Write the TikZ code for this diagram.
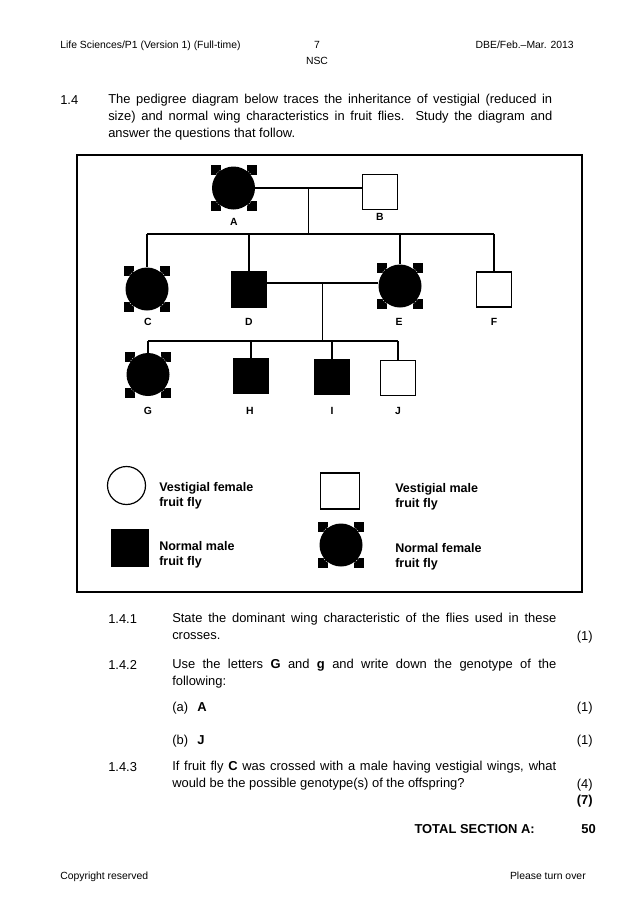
\documentclass[tikz,border=0pt]{standalone}
\usepackage{fontspec}
\setmainfont{Liberation Sans}
\usetikzlibrary{calc,backgrounds}
\newcommand\selhandles[2]{%
  \begin{pgfonlayer}{background}
  \foreach \sx/\sy in {-1/-1,1/-1,-1/1,1/1}{
    \fill[black] ($(#1.center)+(\sx*#2,\sy*#2)$) rectangle ($(#1.center)+({\sx*(#2-10)},{\sy*(#2-10)})$);
  }
  \draw[white,line width=0.35pt,dash pattern=on 0.8pt off 1pt] (#1.center) circle[radius=#2-0.9];
  \end{pgfonlayer}}
\begin{document}
\begin{tikzpicture}[x=0.75pt,y=-0.75pt,
  hdr/.style={font=\fontsize{7.8}{9}\selectfont, inner sep=0},
  body/.style={font=\fontsize{9.7}{12.75}\selectfont, inner sep=0},
  para/.style={body, anchor=north west, align=justify},
  lbl/.style={font=\bfseries\fontsize{7.8}{9}\selectfont, inner sep=0},
  leg/.style={font=\bfseries\fontsize{9.4}{11.6}\selectfont, inner sep=0, align=left, anchor=north west},
  fem/.style={circle, fill=black, minimum size=32.25pt, inner sep=0},
  male/.style={rectangle, draw, line width=1.1pt, minimum size=26pt, inner sep=0},
  maleN/.style={male, fill=black},
  link/.style={line width=1.1pt}]
\useasboundingbox (0,0) rectangle (638,903);
\begin{pgfonlayer}{background}
\fill[white] (0,0) rectangle (638,903);
\end{pgfonlayer}

% header
\node[hdr, anchor=base west] (h1) at (60,48.5) {Life Sciences/P1 (Version 1) (Full-time)};
\node[hdr, anchor=base] (h2) at (317,48.5) {7};
\node[hdr, anchor=base] (h3) at (317,64.5) {NSC};
\node[hdr, anchor=base east] (h4) at (574,48.5) {DBE/Feb.–Mar. 2013};

% intro
\node[body, anchor=base west] (n14) at (60,104.5) {1.4};
\node[para, text width=333pt] (intro) at (108,94) {The pedigree diagram below traces the inheritance of vestigial (reduced in\linebreak size) and normal wing characteristics in fruit flies. Study the diagram and\linebreak answer the questions that follow.};

% frame
\draw[line width=1.3pt] (77,155) rectangle (582,592);

% generation 1
\node[fem] (A) at (233.5,188) {};
\node[male] (B) at (380,192) {};
\selhandles{A}{23}
\node[lbl] (lA) at (234,222) {A};
\node[lbl] (lB) at (380,217) {B};
\draw[link] (A) -- (A -| B.west);
\coordinate (ab) at ($(A.east)!0.5!(A -| B.west)$);
\coordinate (s1) at (0,234);

% generation 2
\node[fem] (C) at (147,289) {};
\node[maleN] (D) at (249,289.5) {};
\node[fem] (E) at (400,286) {};
\node[male] (F) at (494,289.5) {};
\selhandles{C}{23}
\selhandles{E}{23}
\node[lbl] (lC) at (148,322) {C};
\node[lbl] (lD) at (249,322) {D};
\node[lbl] (lE) at (399,322) {E};
\node[lbl] (lF) at (494,322) {F};
\draw[link] (ab) -- (ab |- s1);
\draw[link] (C |- s1) -- (F |- s1);
\foreach \n in {C,D,E,F} \draw[link] (\n |- s1) -- (\n.north);
\coordinate (m2) at (0,283);
\draw[link] (D.east |- m2) -- (E.west |- m2);
\coordinate (de) at ($(D.east |- m2)!0.5!(E.west |- m2)$);
\coordinate (s2) at (0,341);

% generation 3
\node[fem] (G) at (148,374.5) {};
\node[maleN] (H) at (251,376) {};
\node[maleN] (I) at (332,377) {};
\node[male] (J) at (398,378) {};
\selhandles{G}{23}
\node[lbl] (lG) at (148,411) {G};
\node[lbl] (lH) at (250,411) {H};
\node[lbl] (lI) at (332,411) {I};
\node[lbl] (lJ) at (398,411) {J};
\draw[link] (de) -- (de |- s2);
\draw[link] (G |- s2) -- (J |- s2);
\foreach \n in {G,H,I,J} \draw[link] (\n |- s2) -- (\n.north);

% legend
\node[circle, draw, line width=0.9pt, minimum size=28.5pt, inner sep=0] (k1) at (126.5,485.5) {};
\node[leg] (t1) at (159,482) {Vestigial female\\fruit fly};
\node[rectangle, draw, line width=1.1pt, minimum width=29pt, minimum height=27pt, inner sep=0] (k2) at (340,491) {};
\node[leg] (t2) at (395,483) {Vestigial male\\fruit fly};
\node[rectangle, fill=black, minimum size=28.5pt, inner sep=0] (k3) at (130,548) {};
\node[leg] (t3) at (159,541) {Normal male\\fruit fly};
\node[fem] (k4) at (341,545) {};
\selhandles{k4}{23}
\node[leg] (t4) at (395,543) {Normal female\\fruit fly};

% questions
\node[body, anchor=base west] (q1n) at (108,623) {1.4.1};
\node[para, text width=288pt] (q1) at (172,613) {State the dominant wing characteristic of the flies used in these\linebreak crosses.};
\node[body, anchor=base east] (q1m) at (593,640) {(1)};

\node[body, anchor=base west] (q2n) at (108,669) {1.4.2};
\node[para, text width=288pt] (q2) at (172,659) {Use the letters \textbf{G} and \textbf{g} and write down the genotype of the\linebreak following:};

\node[body, anchor=base west] (qa) at (172,711) {(a)};
\node[body, anchor=base west] (qaA) at (197,711) {\textbf{A}};
\node[body, anchor=base east] (qam) at (593,711) {(1)};
\node[body, anchor=base west] (qb) at (172,744) {(b)};
\node[body, anchor=base west] (qbJ) at (197,744) {\textbf{J}};
\node[body, anchor=base east] (qbm) at (593,744) {(1)};

\node[body, anchor=base west] (q3n) at (108,771) {1.4.3};
\node[para, text width=288pt] (q3) at (172,761) {If fruit fly \textbf{C} was crossed with a male having vestigial wings, what\linebreak would be the possible genotype(s) of the offspring?};
\node[body, anchor=base east] (q3m) at (593,788) {(4)};
\node[body, anchor=base east] (tot7) at (593,804) {\textbf{(7)}};

\node[body, anchor=base east] (tot) at (535,833) {\textbf{TOTAL SECTION A:}};
\node[body, anchor=base east] (tot50) at (596,833) {\textbf{50}};

% footer
\node[hdr, anchor=base west] (f1) at (60,879.5) {Copyright reserved};
\node[hdr, anchor=base east] (f2) at (586,879.5) {Please turn over};
\end{tikzpicture}
\end{document}
